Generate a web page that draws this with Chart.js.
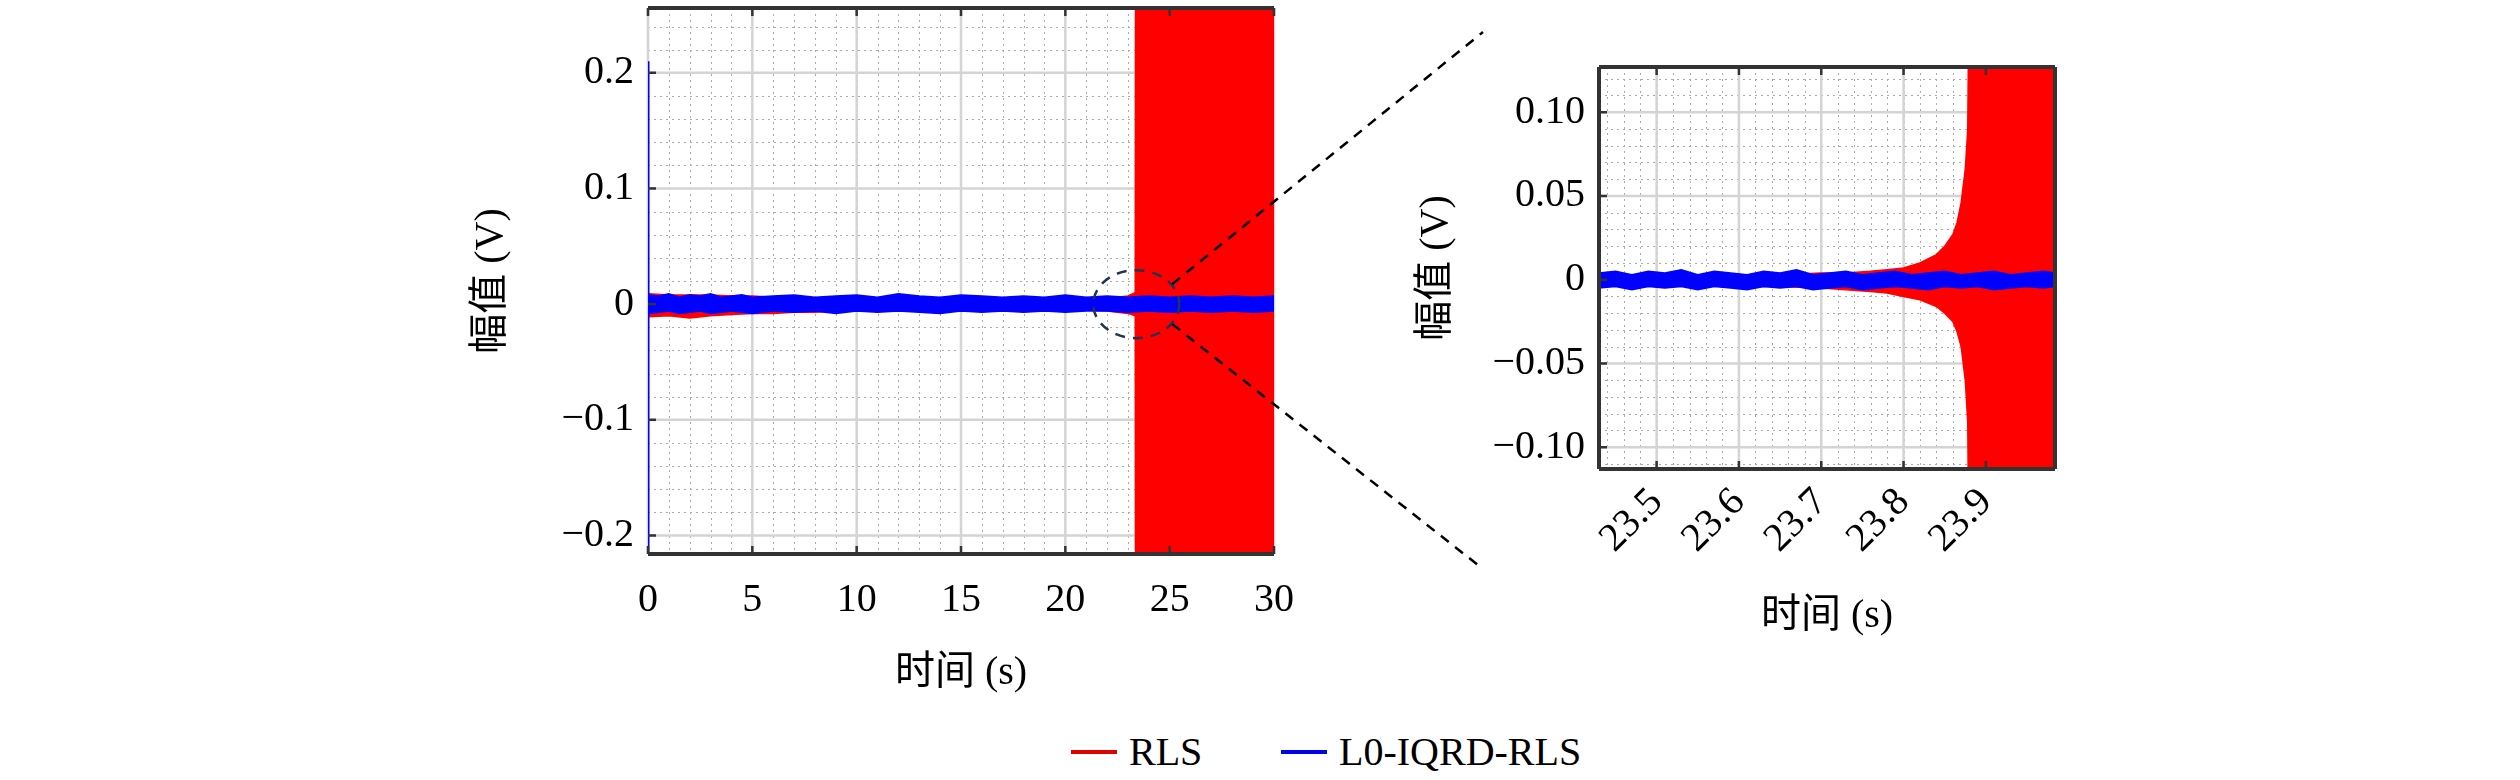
<!DOCTYPE html>
<html>
<head>
<meta charset="utf-8">
<script src="https://cdn.jsdelivr.net/npm/chart.js@4.4.1/dist/chart.umd.min.js"></script>
<style>
  body { margin: 0; width: 2520px; height: 780px; background: #fff; position: relative; overflow: hidden; }
  .box { position: absolute; }
  .legend { position: absolute; top: 728px; font: 40px 'Liberation Serif', serif; color: #000; display: flex; align-items: center; }
  .legend span.sw { display: inline-block; width: 46px; height: 4px; margin-right: 12px; }
</style>
</head>
<body>
<div class="box" id="leftBox" style="left:467px;top:0;width:1030px;height:697px"><canvas id="left"></canvas></div>
<div class="box" id="rightBox" style="left:1412px;top:0;width:680px;height:640px"><canvas id="right"></canvas></div>
<div class="legend" style="left:1071px"><span class="sw" style="background:#e00000"></span>RLS</div>
<div class="legend" style="left:1281px"><span class="sw" style="background:#0000ee"></span>L0-IQRD-RLS</div>
<script>
// ---- full record (0 - 30 s) ----
var fullTime  = [0, 1, 2, 3, 4, 5, 6, 7, 8, 9, 10, 11, 12, 13, 14, 15, 16, 17, 18, 19, 20, 21, 22, 23, 23.35, 23.4, 24, 26, 28, 30];
var fullRlsUp = [0.009, 0.008, 0.008, 0.008, 0.007, 0.007, 0.006, 0.006, 0.005, 0.005, 0.005, 0.005, 0.004, 0.004, 0.004, 0.004, 0.004, 0.004, 0.004, 0.004, 0.004, 0.004, 0.005, 0.007, 0.010, 1, 1, 1, 1, 1];
var fullRlsLo = [-0.011, -0.010, -0.012, -0.010, -0.009, -0.008, -0.008, -0.007, -0.007, -0.006, -0.006, -0.006, -0.005, -0.005, -0.005, -0.005, -0.005, -0.005, -0.005, -0.005, -0.005, -0.005, -0.006, -0.008, -0.010, -1, -1, -1, -1, -1];
var fullTimeB = [0, 0.5, 1, 1.5, 2, 2.5, 3, 3.5, 4, 4.5, 5, 6, 7, 8, 9, 10, 11, 12, 13, 14, 15, 16, 17, 18, 19, 20, 21, 22, 23, 24, 25, 26, 27, 28, 29, 30];
var fullLmsUp = [0.008, 0.007, 0.009, 0.006, 0.008, 0.007, 0.009, 0.006, 0.007, 0.008, 0.006, 0.007, 0.008, 0.006, 0.007, 0.008, 0.006, 0.009, 0.007, 0.006, 0.008, 0.007, 0.006, 0.007, 0.006, 0.008, 0.006, 0.007, 0.006, 0.007, 0.006, 0.007, 0.006, 0.007, 0.006, 0.007];
var fullLmsLo = [-0.008, -0.007, -0.006, -0.008, -0.007, -0.006, -0.008, -0.007, -0.006, -0.007, -0.008, -0.006, -0.007, -0.006, -0.008, -0.006, -0.007, -0.006, -0.007, -0.008, -0.006, -0.007, -0.006, -0.007, -0.006, -0.007, -0.006, -0.006, -0.007, -0.006, -0.007, -0.006, -0.007, -0.006, -0.007, -0.006];
var fullSpike = [0.21, -0.216];
var fullXTicks = [0, 5, 10, 15, 20, 25, 30];
var fullYTicks = [-0.2, -0.1, 0, 0.1, 0.2];
var fullYLabels = ['\u22120.2', '\u22120.1', '0', '0.1', '0.2'];

// ---- zoomed window (23.43 - 23.98 s) ----
var zoomTime  = [23.43, 23.5, 23.55, 23.6, 23.65, 23.7, 23.73, 23.76, 23.78, 23.8, 23.82, 23.84, 23.85, 23.86, 23.865, 23.87, 23.875, 23.878, 23.88, 23.882, 23.9, 23.95, 23.984];
var zoomRlsUp = [0.003, 0.003, 0.003, 0.003, 0.003, 0.004, 0.004, 0.005, 0.006, 0.007, 0.010, 0.015, 0.020, 0.027, 0.034, 0.046, 0.066, 0.090, 0.2, 1, 1, 1, 1];
var zoomRlsLo = [-0.003, -0.003, -0.003, -0.004, -0.004, -0.005, -0.006, -0.007, -0.008, -0.010, -0.012, -0.016, -0.020, -0.025, -0.031, -0.040, -0.060, -0.085, -0.2, -1, -1, -1, -1];
var zoomTimeB = [23.43, 23.45, 23.47, 23.49, 23.51, 23.53, 23.55, 23.57, 23.59, 23.61, 23.63, 23.65, 23.67, 23.69, 23.71, 23.73, 23.75, 23.77, 23.79, 23.81, 23.83, 23.85, 23.87, 23.89, 23.91, 23.93, 23.95, 23.97, 23.984];
var zoomLmsUp = [0.004, 0.005, 0.003, 0.005, 0.004, 0.006, 0.003, 0.005, 0.004, 0.003, 0.005, 0.004, 0.006, 0.003, 0.004, 0.005, 0.003, 0.004, 0.005, 0.003, 0.004, 0.005, 0.003, 0.004, 0.005, 0.003, 0.004, 0.005, 0.004];
var zoomLmsLo = [-0.005, -0.004, -0.006, -0.004, -0.005, -0.004, -0.006, -0.004, -0.005, -0.006, -0.004, -0.005, -0.004, -0.006, -0.005, -0.004, -0.006, -0.005, -0.004, -0.005, -0.006, -0.004, -0.005, -0.004, -0.006, -0.005, -0.004, -0.005, -0.004];
var zoomXTicks = [23.5, 23.6, 23.7, 23.8, 23.9];
var zoomYTicks = [-0.1, -0.05, 0, 0.05, 0.1];
var zoomYLabels = ['\u22120.10', '\u22120.05', '0', '0.05', '0.10'];

var RED = '#ff0000', BLUE = '#0000ff';
var serif = "'Liberation Serif', 'Noto Sans CJK SC', serif";

function pts(xs, ys) { return xs.map(function (x, i) { return { x: x, y: ys[i] }; }); }

function band(xs, up, lo, color) {
    return [
        { data: pts(xs, up), borderColor: color, backgroundColor: color, borderWidth: 1.5, pointRadius: 0, fill: '+1', tension: 0 },
        { data: pts(xs, lo), borderColor: color, backgroundColor: color, borderWidth: 1.5, pointRadius: 0, fill: false, tension: 0 }
    ];
}

// minor/major grid, inward ticks and frame
function gridPlugin(xMinor, yMinor) {
    return {
        id: 'gridFrame',
        beforeDatasetsDraw: function (chart) {
            var c = chart.ctx, a = chart.chartArea, xs = chart.scales.x, ys = chart.scales.y;
            c.save();
            c.lineWidth = 1; c.strokeStyle = '#aaa'; c.setLineDash([2, 4]);
            for (var v = Math.ceil(xs.min / xMinor) * xMinor; v <= xs.max; v += xMinor) {
                var px = Math.round(xs.getPixelForValue(v)) + 0.5;
                c.beginPath(); c.moveTo(px, a.top); c.lineTo(px, a.bottom); c.stroke();
            }
            for (var w = Math.ceil(ys.min / yMinor) * yMinor; w <= ys.max; w += yMinor) {
                var py = Math.round(ys.getPixelForValue(w)) + 0.5;
                c.beginPath(); c.moveTo(a.left, py); c.lineTo(a.right, py); c.stroke();
            }
            c.setLineDash([]); c.lineWidth = 2.5; c.strokeStyle = '#d4d4d4';
            xs.ticks.forEach(function (t) {
                var px = xs.getPixelForValue(t.value);
                c.beginPath(); c.moveTo(px, a.top); c.lineTo(px, a.bottom); c.stroke();
            });
            ys.ticks.forEach(function (t) {
                var py = ys.getPixelForValue(t.value);
                c.beginPath(); c.moveTo(a.left, py); c.lineTo(a.right, py); c.stroke();
            });
            c.restore();
        },
        afterDatasetsDraw: function (chart) {
            var c = chart.ctx, a = chart.chartArea, xs = chart.scales.x, ys = chart.scales.y;
            c.save();
            c.strokeStyle = '#333'; c.lineWidth = 2.5;
            xs.ticks.forEach(function (t) {
                var px = xs.getPixelForValue(t.value);
                c.beginPath(); c.moveTo(px, a.bottom); c.lineTo(px, a.bottom - 8); c.stroke();
                c.beginPath(); c.moveTo(px, a.top); c.lineTo(px, a.top + 8); c.stroke();
            });
            ys.ticks.forEach(function (t) {
                var py = ys.getPixelForValue(t.value);
                c.beginPath(); c.moveTo(a.left, py); c.lineTo(a.left + 8, py); c.stroke();
            });
            c.lineWidth = 4;
            c.beginPath(); c.moveTo(a.left, a.top); c.lineTo(a.right, a.top); c.stroke();
            c.beginPath(); c.moveTo(a.left, a.bottom); c.lineTo(a.right, a.bottom); c.stroke();
            if (chart.canvas.id === 'right') {
                c.beginPath(); c.moveTo(a.left, a.top); c.lineTo(a.left, a.bottom); c.stroke();
                c.beginPath(); c.moveTo(a.right, a.top); c.lineTo(a.right, a.bottom); c.stroke();
            }
            c.restore();
        }
    };
}

// dashed ellipse round the zoomed window and the two lines towards the inset
var zoomMark = {
    id: 'zoomMark',
    afterDraw: function (chart) {
        var c = chart.ctx, a = chart.chartArea, xs = chart.scales.x, ys = chart.scales.y;
        var cx = xs.getPixelForValue(23.4), cy = ys.getPixelForValue(0);
        c.save();
        c.setLineDash([10, 8]); c.lineWidth = 2.5;
        c.strokeStyle = '#1f3550';
        c.beginPath(); c.ellipse(cx, cy, 43, 34, 0, 0, Math.PI * 2); c.stroke();
        c.strokeStyle = '#000';
        c.beginPath(); c.moveTo(cx + 36, cy - 20); c.lineTo(a.right + 209, a.top + 24); c.stroke();
        c.beginPath(); c.moveTo(cx + 36, cy + 20); c.lineTo(a.right + 209, a.top + 561); c.stroke();
        c.restore();
    }
};

function axes(o) {
    return {
        x: {
            type: 'linear', min: o.xmin, max: o.xmax,
            afterBuildTicks: function (s) { s.ticks = o.xt.map(function (v) { return { value: v }; }); },
            afterFit: function (s) { s.height = o.xh; s.paddingLeft = 0; s.paddingRight = 0; },
            grid: { display: false, drawTicks: false },
            border: { display: false },
            ticks: {
                padding: o.xpad, color: '#000', font: { family: serif, size: 40 },
                maxRotation: o.rot, minRotation: o.rot, autoSkip: false,
                callback: function (v) { return o.xfmt(v); }
            },
            title: { display: true, text: '时间 (s)', color: '#000', font: { family: serif, size: 40 }, padding: 0 }
        },
        y: {
            type: 'linear', min: o.ymin, max: o.ymax,
            afterBuildTicks: function (s) { s.ticks = o.yt.map(function (v) { return { value: v }; }); },
            afterFit: function (s) { s.width = o.yw; s.paddingTop = 0; s.paddingBottom = 0; },
            grid: { display: false, drawTicks: false },
            border: { display: false },
            ticks: {
                padding: 14, color: '#000', font: { family: serif, size: 40 },
                callback: function (v) { var i = o.yt.indexOf(v); return i >= 0 ? o.yl[i] : ''; }
            },
            title: { display: true, text: '幅值 (V)', color: '#000', font: { family: serif, size: 40 }, padding: 0 }
        }
    };
}

new Chart(document.getElementById('left'), {
    type: 'line',
    data: {
        datasets: [{ data: pts([0, 0], fullSpike), borderColor: BLUE, borderWidth: 3, pointRadius: 0, fill: false }]
            .concat(band(fullTimeB, fullLmsUp, fullLmsLo, BLUE))
            .concat(band(fullTime, fullRlsUp, fullRlsLo, RED))
    },
    options: {
        responsive: true, maintainAspectRatio: false, animation: false,
        layout: { padding: { top: 8, right: 223, left: 0, bottom: 0 } },
        plugins: { legend: { display: false }, tooltip: { enabled: false } },
        scales: axes({ xmin: 0, xmax: 30, ymin: -0.216, ymax: 0.256, xt: fullXTicks, yt: fullYTicks, yl: fullYLabels,
            xh: 143, yw: 181, xpad: 22, rot: 0, xfmt: function (v) { return String(v); } })
    },
    plugins: [gridPlugin(1, 0.02), zoomMark]
});

new Chart(document.getElementById('right'), {
    type: 'line',
    data: {
        datasets: band(zoomTimeB, zoomLmsUp, zoomLmsLo, BLUE)
            .concat(band(zoomTime, zoomRlsUp, zoomRlsLo, RED))
    },
    options: {
        responsive: true, maintainAspectRatio: false, animation: false,
        layout: { padding: { top: 67, right: 37, left: 0, bottom: 0 } },
        plugins: { legend: { display: false }, tooltip: { enabled: false } },
        scales: axes({ xmin: 23.43, xmax: 23.984, ymin: -0.113, ymax: 0.127, xt: zoomXTicks, yt: zoomYTicks, yl: zoomYLabels,
            xh: 171, yw: 187, xpad: 10, rot: 45, xfmt: function (v) { return v.toFixed(1); } })
    },
    plugins: [gridPlugin(0.02, 0.01)]
});
</script>
</body>
</html>
